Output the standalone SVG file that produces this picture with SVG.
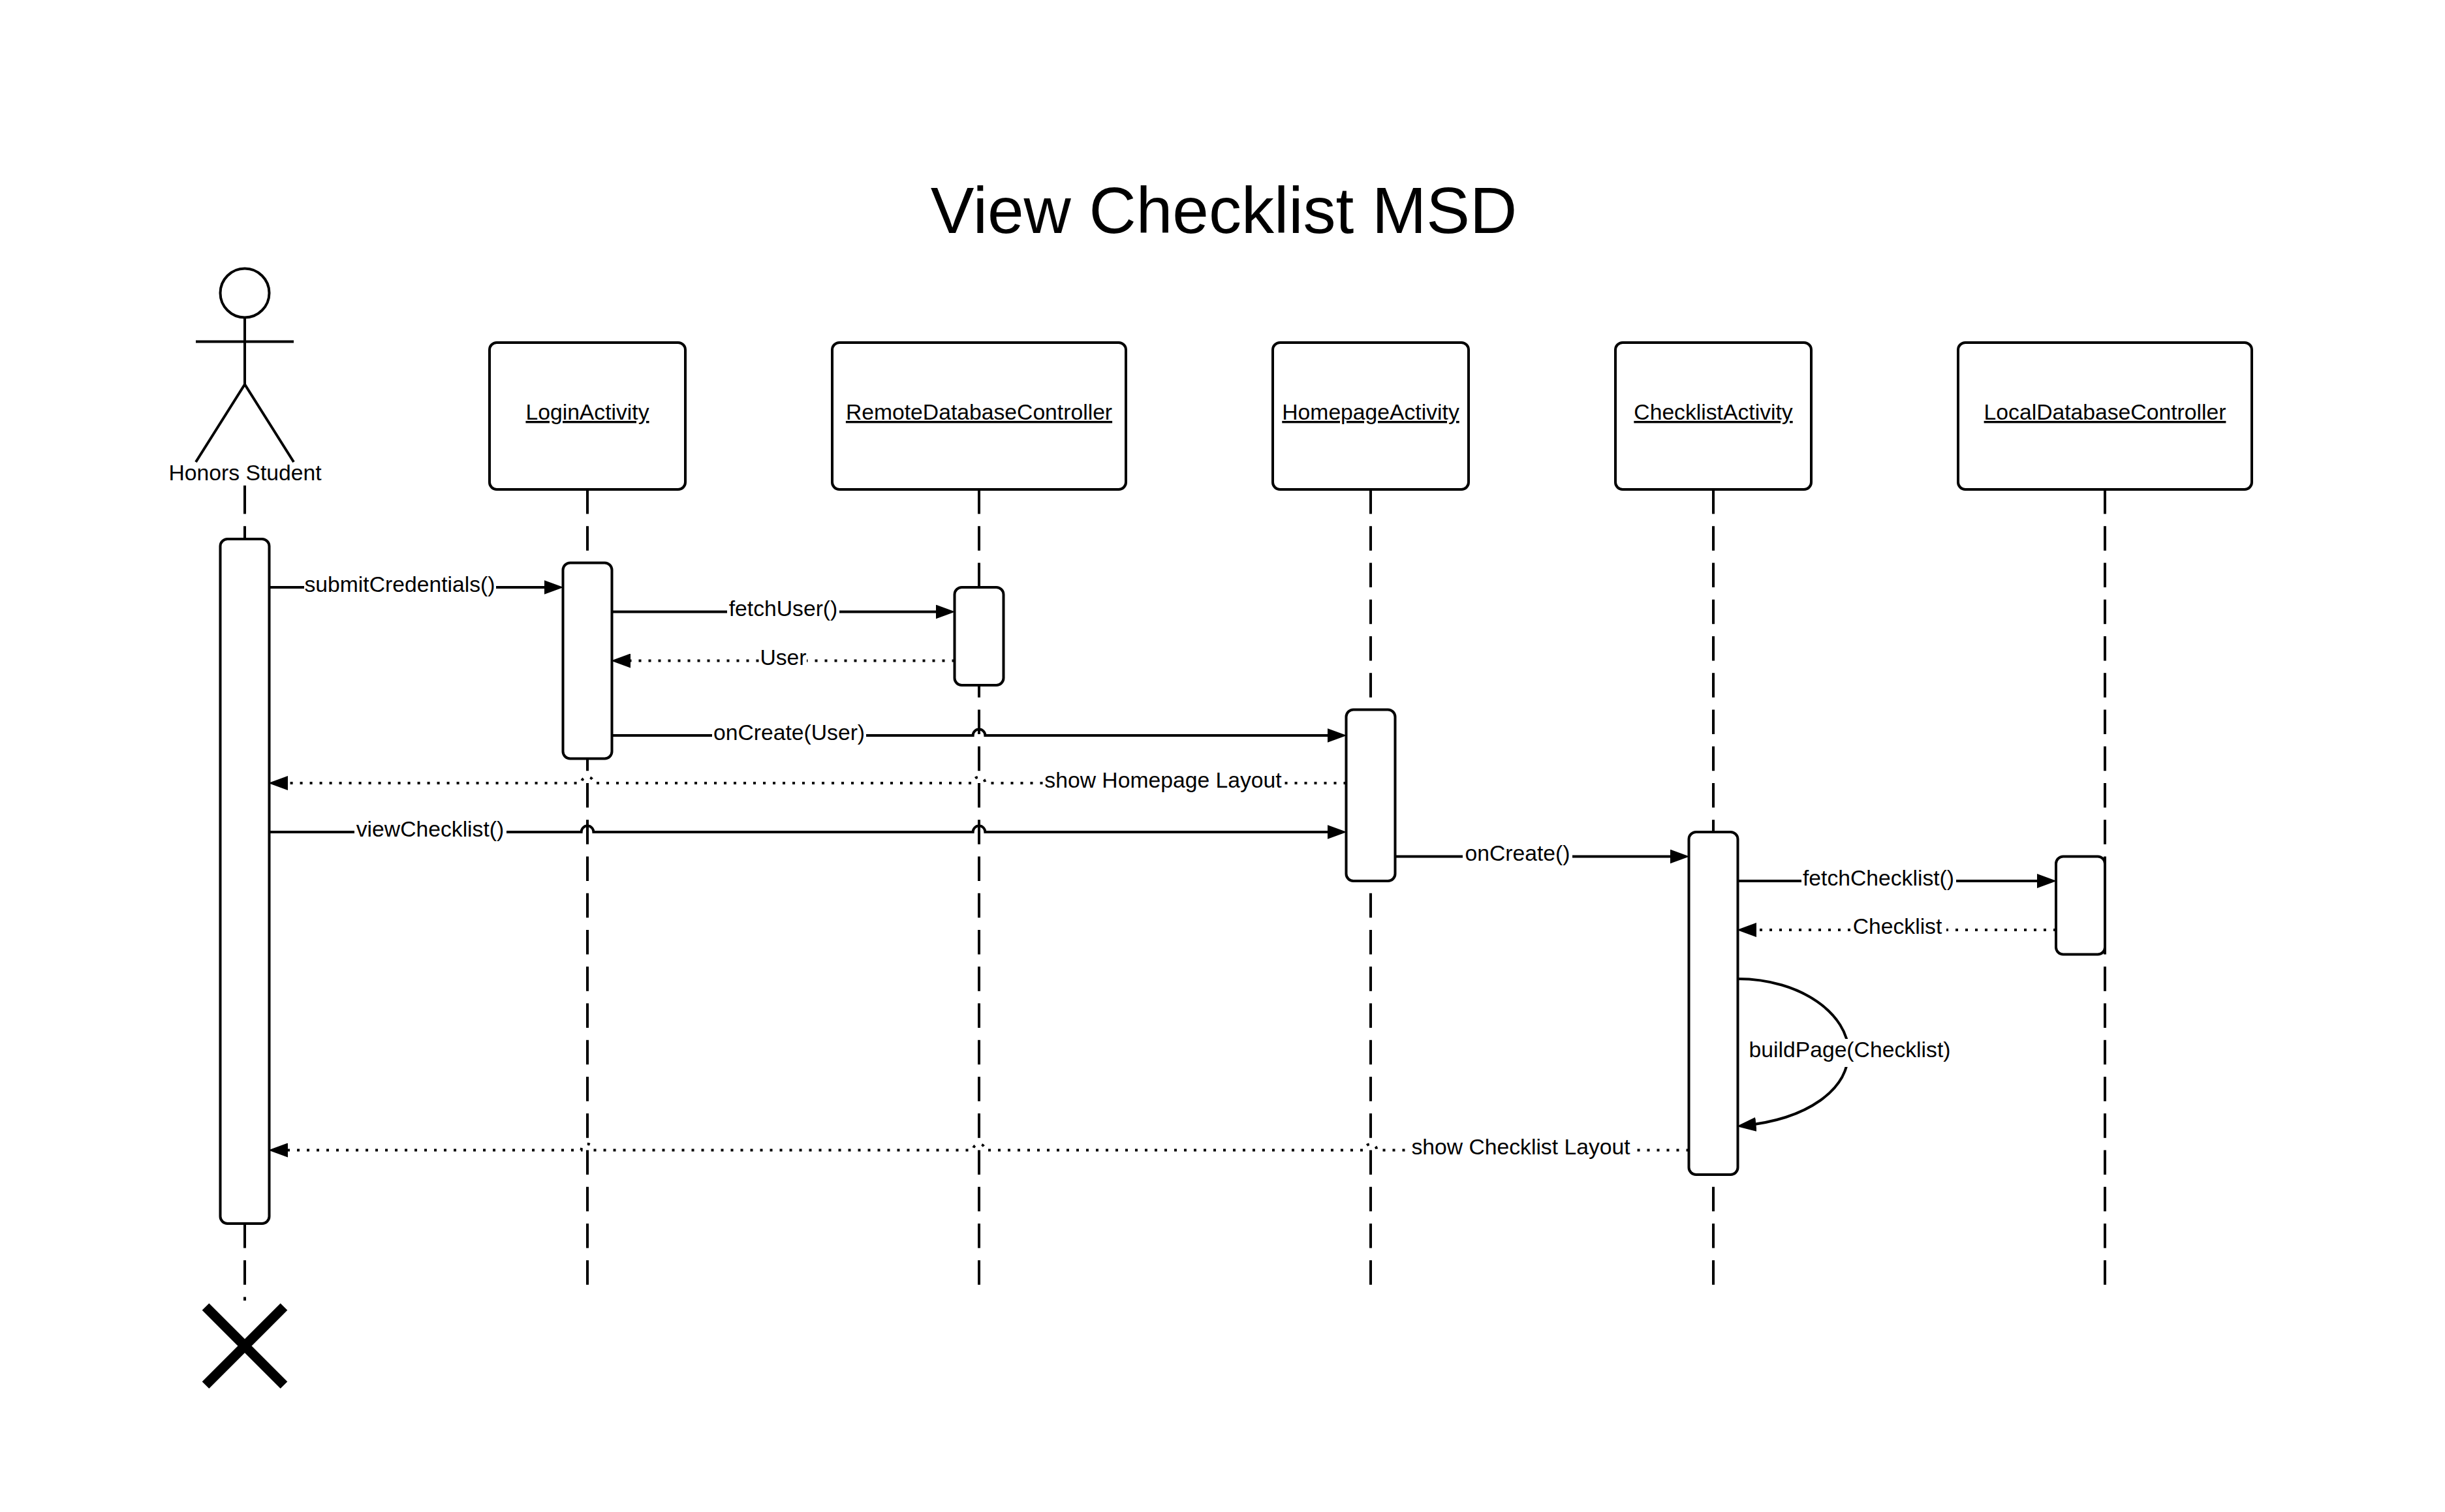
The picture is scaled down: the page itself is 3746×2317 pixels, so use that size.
<svg xmlns="http://www.w3.org/2000/svg" width="3746" height="2317" viewBox="0 0 3746 2317">
<style>
text{font-family:"Liberation Sans",Arial,sans-serif;font-size:33.7px;fill:#000;text-anchor:middle}
.title{font-size:100px}
.head{text-decoration:underline}
.box,.act{fill:#fff;stroke:#000;stroke-width:4}
.life{fill:none;stroke:#000;stroke-width:4;stroke-dasharray:37.5 18.75}
.line{fill:none;stroke:#000;stroke-width:4}
.msg{fill:none;stroke:#000;stroke-width:4;marker-end:url(#arrow)}
.dot{fill:none;stroke:#000;stroke-width:4;stroke-dasharray:4 11;marker-end:url(#arrow)}
.mask{fill:#fff;stroke:none}
</style>
<defs>
<marker id="arrow" markerUnits="userSpaceOnUse" markerWidth="30" markerHeight="22" refX="20" refY="11" orient="auto"><path d="M0 0L30 11L0 22Z" fill="#000"/></marker>
</defs>
<rect width="3746" height="2317" fill="#fff"/>
<text id="title" class="title" x="1875" y="357.3">View Checklist MSD</text>

<g id="actor-honors-student">
<line class="line" x1="375" y1="744" x2="375" y2="787.5"/>
<line class="life" x1="375" y1="806.25" x2="375" y2="1993"/>
<circle class="line" cx="375" cy="449" r="37.5"/>
<path class="line" d="M375 486.5V589M300 523.5H450M300 708L375 589L450 708"/>
<text x="375.5" y="736">Honors Student</text>
<rect class="act" x="337.5" y="826" width="75" height="1049" rx="11"/>
<path d="M315 2002.5L435 2122.5M435 2002.5L315 2122.5" fill="none" stroke="#000" stroke-width="15"/>
</g>

<g id="node-login-activity">
<line class="life" x1="900" y1="750" x2="900" y2="1970"/>
<rect class="box" x="750" y="525" width="300" height="225" rx="11"/>
<text class="head" x="900" y="643">LoginActivity</text>
<rect class="act" x="862.5" y="862.5" width="75" height="300" rx="11"/>
</g>

<g id="node-remote-database-controller">
<line class="life" x1="1500" y1="750" x2="1500" y2="1970"/>
<rect class="box" x="1275" y="525" width="450" height="225" rx="11"/>
<text class="head" x="1500" y="643">RemoteDatabaseController</text>
<rect class="act" x="1462.5" y="900" width="75" height="150" rx="11"/>
</g>

<g id="node-homepage-activity">
<line class="life" x1="2100" y1="750" x2="2100" y2="1970"/>
<rect class="box" x="1950" y="525" width="300" height="225" rx="11"/>
<text class="head" x="2100" y="643">HomepageActivity</text>
<rect class="act" x="2062.5" y="1087.5" width="75" height="262.5" rx="11"/>
</g>

<g id="node-checklist-activity">
<line class="life" x1="2625" y1="750" x2="2625" y2="1970"/>
<rect class="box" x="2475" y="525" width="300" height="225" rx="11"/>
<text class="head" x="2625" y="643">ChecklistActivity</text>
<rect class="act" x="2587.5" y="1275" width="75" height="525" rx="11"/>
</g>

<g id="node-local-database-controller">
<line class="life" x1="3225" y1="750" x2="3225" y2="1970"/>
<rect class="box" x="3000" y="525" width="450" height="225" rx="11"/>
<text class="head" x="3225" y="643">LocalDatabaseController</text>
<rect class="act" x="3150" y="1312.5" width="75" height="150" rx="11"/>
</g>

<g id="connectors">
<path class="msg" d="M412.5 900H853.5"/>
<rect class="mask" x="466" y="888" width="294" height="24"/>
<text x="612.5" y="907">submitCredentials()</text>

<path class="msg" d="M937.5 937.5H1453.5"/>
<rect class="mask" x="1114" y="925" width="172" height="24"/>
<text x="1200" y="944">fetchUser()</text>

<path class="dot" d="M1462.5 1012.5H946"/>
<rect class="mask" x="1164" y="1000" width="72" height="24"/>
<text x="1200" y="1019">User</text>

<path class="msg" d="M937.5 1127H1490.6A9.4 9.4 0 0 1 1509.4 1127H2053.5"/>
<rect class="mask" x="1091" y="1115" width="236" height="24"/>
<text x="1209" y="1133.5">onCreate(User)</text>

<path class="dot" d="M2062.5 1200H1509.4A9.4 9.4 0 0 0 1490.6 1200H909.4A9.4 9.4 0 0 0 890.6 1200H421"/>
<rect class="mask" x="1598" y="1188" width="368" height="24"/>
<text x="1782" y="1206.5">show Homepage Layout</text>

<path class="msg" d="M412.5 1275H890.6A9.4 9.4 0 0 1 909.4 1275H1490.6A9.4 9.4 0 0 1 1509.4 1275H2053.5"/>
<rect class="mask" x="543" y="1263" width="233" height="24"/>
<text x="659" y="1281.5">viewChecklist()</text>

<path class="msg" d="M2137.5 1312.5H2578.5"/>
<rect class="mask" x="2241" y="1300" width="168" height="24"/>
<text x="2325" y="1319">onCreate()</text>

<path class="msg" d="M2662.5 1350H3141"/>
<rect class="mask" x="2760" y="1338" width="237" height="24"/>
<text x="2878" y="1356.5">fetchChecklist()</text>

<path class="dot" d="M3150 1425H2671"/>
<rect class="mask" x="2836" y="1413" width="146" height="24"/>
<text x="2907" y="1431">Checklist</text>

<path class="msg" d="M2662.5 1500C2760 1500 2832 1555 2832 1612C2832 1670 2770 1715 2670.5 1725"/>
<rect class="mask" x="2678" y="1592" width="312" height="43"/>
<text x="2834" y="1620">buildPage(Checklist)</text>

<path class="dot" d="M2587.5 1762.5H2109.4A9.4 9.4 0 0 0 2090.6 1762.5H1509.4A9.4 9.4 0 0 0 1490.6 1762.5H909.4A9.4 9.4 0 0 0 890.6 1762.5H421"/>
<rect class="mask" x="2160" y="1750" width="341" height="24"/>
<text x="2330" y="1769">show Checklist Layout</text>
</g>
</svg>
